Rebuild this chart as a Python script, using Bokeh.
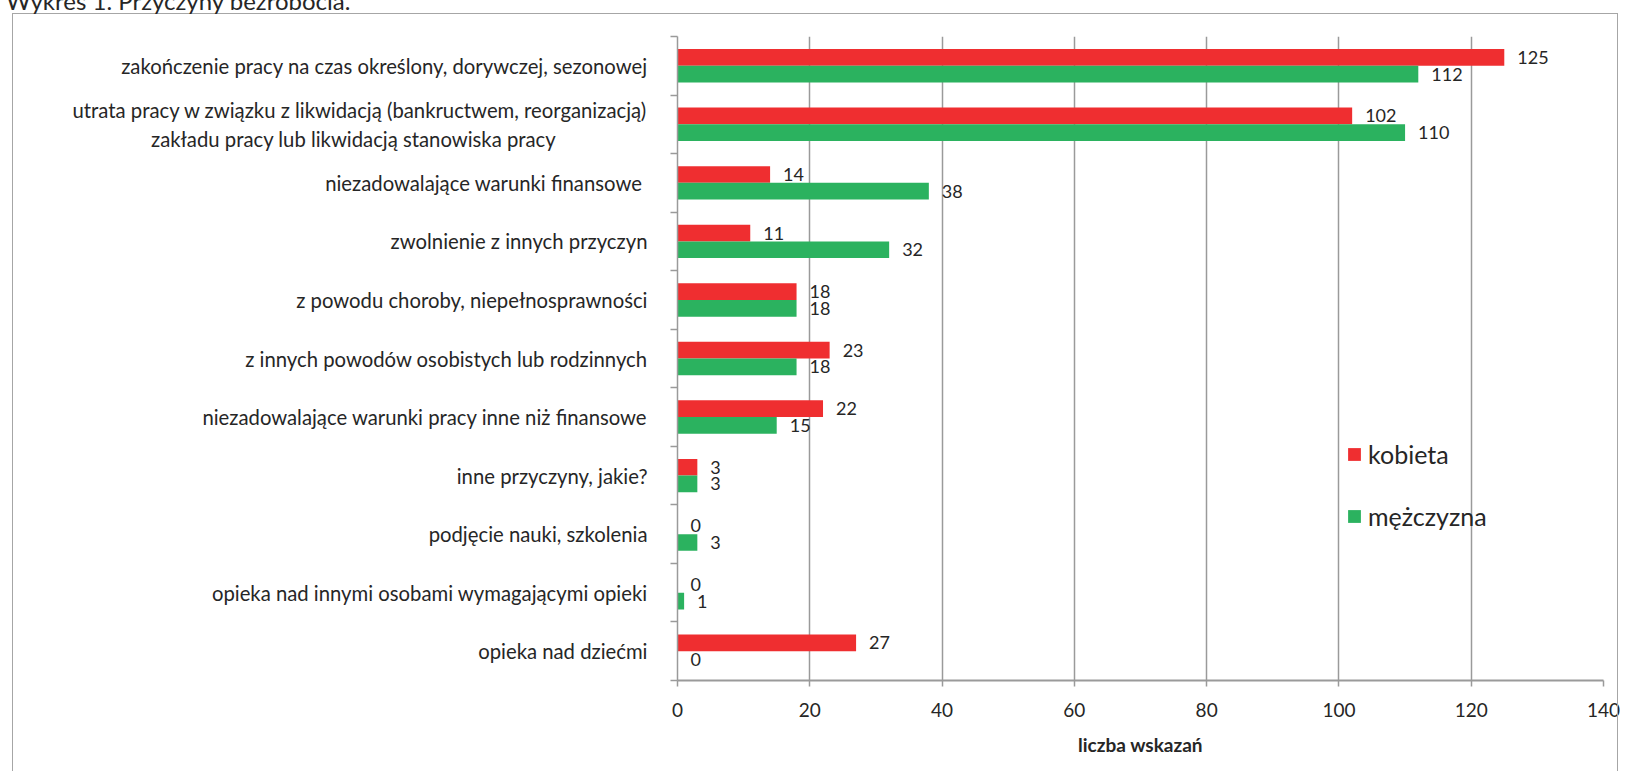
from bokeh.plotting import figure
from bokeh.models import (FixedTicker, Legend, LegendItem, ColumnDataSource,
                          Range1d, Div)
from bokeh.layouts import column
from bokeh.core.properties import value
from bokeh.embed import file_html
from bokeh.resources import INLINE

# ---------------- data ----------------
categories = [
    "zakończenie pracy na czas określony, dorywczej, sezonowej",
    "utrata pracy w związku z likwidacją (bankructwem, reorganizacją)\nzakładu pracy lub likwidacją stanowiska pracy",
    "niezadowalające warunki finansowe ",
    "zwolnienie z innych przyczyn",
    "z powodu choroby, niepełnosprawności",
    "z innych powodów osobistych lub rodzinnych",
    "niezadowalające warunki pracy inne niż finansowe",
    "inne przyczyny, jakie?",
    "podjęcie nauki, szkolenia",
    "opieka nad innymi osobami wymagającymi opieki",
    "opieka nad dziećmi",
]
kobieta = [125, 102, 14, 11, 18, 23, 22, 3, 0, 0, 27]
mezczyzna = [112, 110, 38, 32, 18, 18, 15, 3, 3, 1, 0]
series_names = ["kobieta", "mężczyzna"]
x_ticks = [0, 20, 40, 60, 80, 100, 120, 140]
x_title = "liczba wskazań"
chart_title = "Wykres 1. Przyczyny bezrobocia."

# ---------------- layout constants ----------------
FONT = "Lato"
RED = "#EF2E30"
GREEN = "#2BB25F"
GRID = "#9a9a9a"
TXT = "#262626"
LABEL_PX = 20.3
EMSP_PX = 14.8      # measured advance of the padding space in the label font

W, H = 1620, 772
FL, FT, FR, FB = 677, 36, 1603, 680   # plot frame in px
n = len(categories)
px_per_y = (FB - FT) / n
BAR_H = 16.7 / px_per_y

centers = [n - i - 0.5 for i in range(n)]
boundaries = list(range(n + 1))


def tick_label(lab):
    # multi-line labels: each line centred on the longest one
    if "\n" not in lab:
        return lab
    lines = lab.split("\n")
    longest = max(len(s) for s in lines)
    out = []
    for s in lines:
        pad_px = (longest - len(s)) * 8.8 / 2
        out.append(s + "\u2003" * int(round(pad_px / EMSP_PX)))
    return "\n".join(out)


src = ColumnDataSource(dict(
    yk=[c + BAR_H / 2 for c in centers],
    ym=[c - BAR_H / 2 for c in centers],
    k=kobieta, m=mezczyzna,
    kl=[str(v) for v in kobieta], ml=[str(v) for v in mezczyzna],
))

p = figure(width=W, height=H, output_backend="svg", toolbar_location=None,
           x_range=Range1d(x_ticks[0], x_ticks[-1]), y_range=Range1d(0, n),
           min_border_left=FL, min_border_top=FT,
           min_border_right=W - FR, min_border_bottom=H - FB)
p.outline_line_color = None
p.background_fill_color = "white"
p.border_fill_color = "white"

rk = p.hbar(y="yk", right="k", left=0, height=BAR_H, source=src,
            fill_color=RED, line_color=None)
rm = p.hbar(y="ym", right="m", left=0, height=BAR_H, source=src,
            fill_color=GREEN, line_color=None)

for xcol, ycol, tcol in (("k", "yk", "kl"), ("m", "ym", "ml")):
    p.text(x=xcol, y=ycol, text=tcol, source=src, x_offset=13,
           text_baseline="middle", text_align="left",
           text_font=value(FONT), text_font_size="18px", text_color=TXT)

# x axis
xa = p.xaxis[0]
xa.ticker = FixedTicker(ticks=x_ticks)
xa.axis_line_color = GRID
xa.axis_line_width = 2.2
xa.major_tick_line_color = GRID
xa.major_tick_line_width = 1.5
xa.major_tick_out = 6
xa.major_tick_in = 0
xa.minor_tick_line_color = None
xa.major_label_text_font = FONT
xa.major_label_text_font_size = "19px"
xa.major_label_text_color = TXT
xa.major_label_standoff = 16
xa.axis_label = x_title
xa.axis_label_text_font = FONT
xa.axis_label_text_font_style = "bold"
xa.axis_label_text_font_size = "19px"
xa.axis_label_text_color = TXT
xa.axis_label_standoff = 13

p.xgrid.ticker = FixedTicker(ticks=x_ticks)
p.xgrid.grid_line_color = GRID
p.xgrid.grid_line_width = 1.5
p.ygrid.grid_line_color = None

# y axis: labels at category centres, tick marks at category boundaries
ya = p.yaxis[0]
ya.ticker = FixedTicker(ticks=centers, minor_ticks=boundaries)
ya.major_label_overrides = {c: tick_label(lab) for c, lab in zip(centers, categories)}
ya.axis_line_color = GRID
ya.axis_line_width = 1.5
ya.major_tick_line_color = None
ya.major_tick_out = 0
ya.major_tick_in = 0
ya.minor_tick_line_color = GRID
ya.minor_tick_line_width = 1.5
ya.minor_tick_out = 7
ya.minor_tick_in = 0
ya.major_label_text_font = FONT
ya.major_label_text_font_size = "%spx" % LABEL_PX
ya.major_label_text_color = TXT
ya.major_label_standoff = 23

# legend
legend = Legend(items=[LegendItem(label=series_names[0], renderers=[rk]),
                       LegendItem(label=series_names[1], renderers=[rm])],
                location=(669, 149), orientation="vertical",
                border_line_color=None, background_fill_alpha=0,
                padding=0, margin=0, spacing=32, label_height=30,
                glyph_width=16, glyph_height=16, label_standoff=6,
                label_text_font=FONT, label_text_font_size="25px",
                label_text_color=TXT)
p.add_layout(legend, "center")

# chart title (cut off at the top edge, as in the reference) and outer border
title_div = Div(
    text=('<div style="font-family:Lato;font-size:24px;line-height:24px;'
          'color:%s;white-space:nowrap">%s</div>' % (TXT, chart_title)),
    width=420, height=24,
    styles={"position": "absolute", "left": "1px", "top": "-16px",
            "pointer-events": "none", "z-index": "5"})
border_div = Div(
    text="", width=1606, height=758,
    styles={"position": "absolute", "left": "7px", "top": "8px",
            "border": "1.5px solid #a6a6a6", "border-bottom": "none",
            "box-sizing": "border-box", "background": "transparent",
            "pointer-events": "none", "z-index": "4"})

layout = column(p, border_div, title_div)
open("out.html", "w").write(file_html(layout, INLINE))
